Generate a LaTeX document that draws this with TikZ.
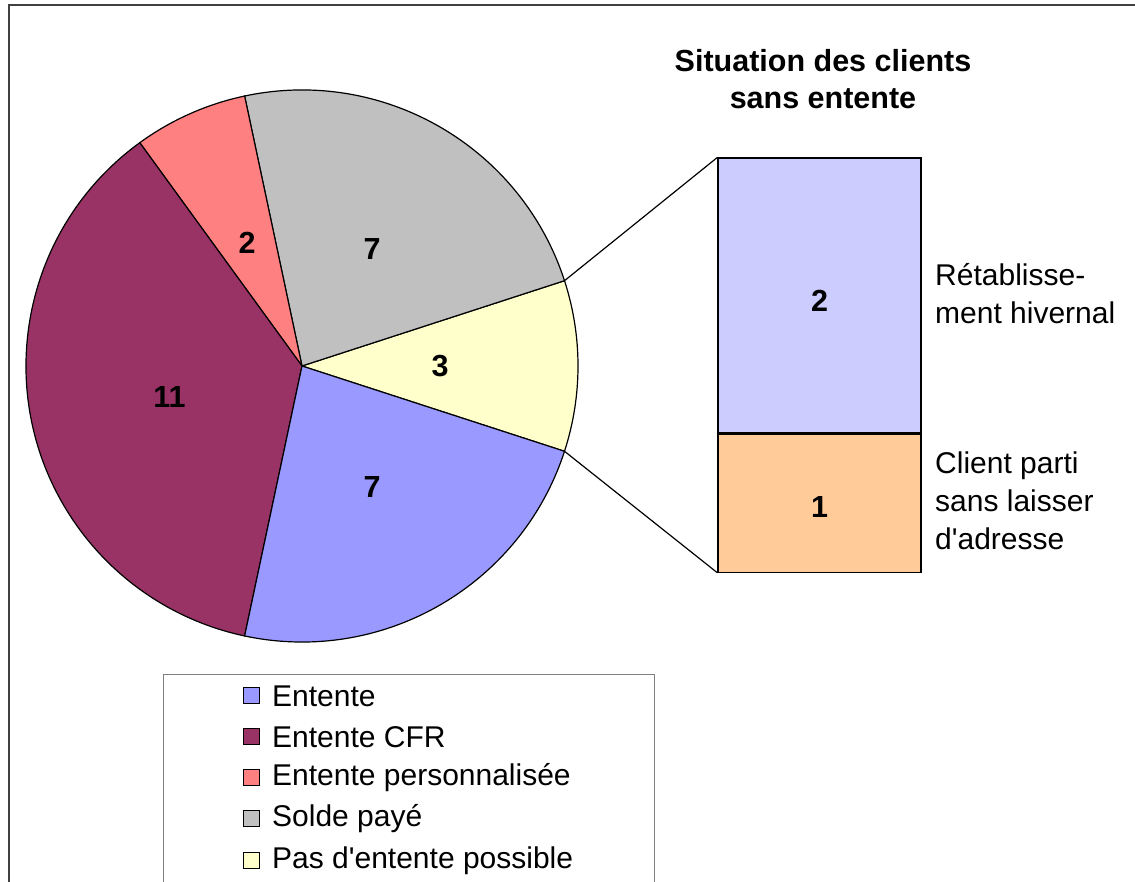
\documentclass[tikz,border=0pt]{standalone}
\usepackage{fontspec}
\setmainfont{Liberation Sans}
\usetikzlibrary{positioning,calc}

\definecolor{entente}{HTML}{9999FF}
\definecolor{cfr}{HTML}{993366}
\definecolor{perso}{HTML}{FF8080}
\definecolor{solde}{HTML}{C0C0C0}
\definecolor{pasent}{HTML}{FFFFCC}
\definecolor{retab}{HTML}{CCCCFF}
\definecolor{parti}{HTML}{FFCC99}

\tikzset{
  num/.style={font=\fontsize{30.5}{37}\selectfont\bfseries},
  lab/.style={font=\fontsize{30}{38}\selectfont, align=left, anchor=north west, inner sep=0pt},
  leg/.style={font=\fontsize{30}{36}\selectfont, anchor=west, inner sep=0pt},
  legbox/.style={draw=black, line width=1pt, minimum size=16pt, inner sep=0pt},
  barbox/.style={draw=black, line width=1.2pt, minimum width=203pt, inner sep=0pt}
}

\begin{document}
\begin{tikzpicture}[x=1pt,y=1pt]
  \useasboundingbox (0,0) rectangle (1135,882);
  \clip (0,0) rectangle (1135,882);
  \draw[line width=2pt, black!75] (9,-20) rectangle (1160,877);

  % pie
  \coordinate (c) at (302,516);
  \draw[fill=pasent, line width=1.2pt] (c) -- +(-18:276) arc[start angle=-18, end angle=18, radius=276] -- cycle;
  \draw[fill=solde, line width=1.2pt] (c) -- +(18:276) arc[start angle=18, end angle=102, radius=276] -- cycle;
  \draw[fill=perso, line width=1.2pt] (c) -- +(102:276) arc[start angle=102, end angle=126, radius=276] -- cycle;
  \draw[fill=cfr, line width=1.2pt] (c) -- +(126:276) arc[start angle=126, end angle=258, radius=276] -- cycle;
  \draw[fill=entente, line width=1.2pt] (c) -- +(258:276) arc[start angle=258, end angle=342, radius=276] -- cycle;
  \node[num] (nPas) at ($(c)+(0:138)$) {3};
  \node[num] (nSolde) at ($(c)+(59:136)$) {7};
  \node[num] (nPerso) at ($(c)+(114:135)$) {2};
  \node[num] (nCfr) at ($(c)+(193:136)$) {11};
  \node[num] (nEntente) at ($(c)+(300:140)$) {7};
  \coordinate (pHaut) at ($(c)+(18:276)$);
  \coordinate (pBas) at ($(c)+(-18:276)$);

  % barre
  \node[barbox, fill=retab, minimum height=275pt] (bRetab) at (819.5,586.5) {};
  \node[barbox, fill=parti, minimum height=138pt, below=0pt of bRetab] (bParti) {};
  \node[num] (nRetab) at ($(bRetab)+(0,-5)$) {2};
  \node[num] (nParti) at ($(bParti)+(0,-4)$) {1};
  \draw[line width=1.2pt] (pHaut) -- (bRetab.north west);
  \draw[line width=1.2pt] (pBas) -- (bParti.south west);
  \node[lab] (tRetab) at (935,619) {Rétablisse-\\ment hivernal};
  \node[lab] (tParti) at (935,430) {Client parti\\sans laisser\\d\textquotesingle adresse};

  \node[num, align=center] (titre) at (823,803) {Situation des clients\\sans entente};

  % legende
  \draw[line width=1pt, black!50] (163,-20) rectangle (654,207);
  \node[legbox, fill=entente] (lEntente) at (251,186) {};
  \node[legbox, fill=cfr] (lCfr) at (251,145) {};
  \node[legbox, fill=perso] (lPerso) at (251,104) {};
  \node[legbox, fill=solde] (lSolde) at (251,63) {};
  \node[legbox, fill=pasent] (lPas) at (251,21) {};
  \node[leg] at (272,186) {Entente};
  \node[leg] at (272,145) {Entente CFR};
  \node[leg] at (272,104) {Entente personnalisée};
  \node[leg] at (272,63) {Solde payé};
  \node[leg] at (272,21) {Pas d\textquotesingle entente possible};
\end{tikzpicture}
\end{document}
